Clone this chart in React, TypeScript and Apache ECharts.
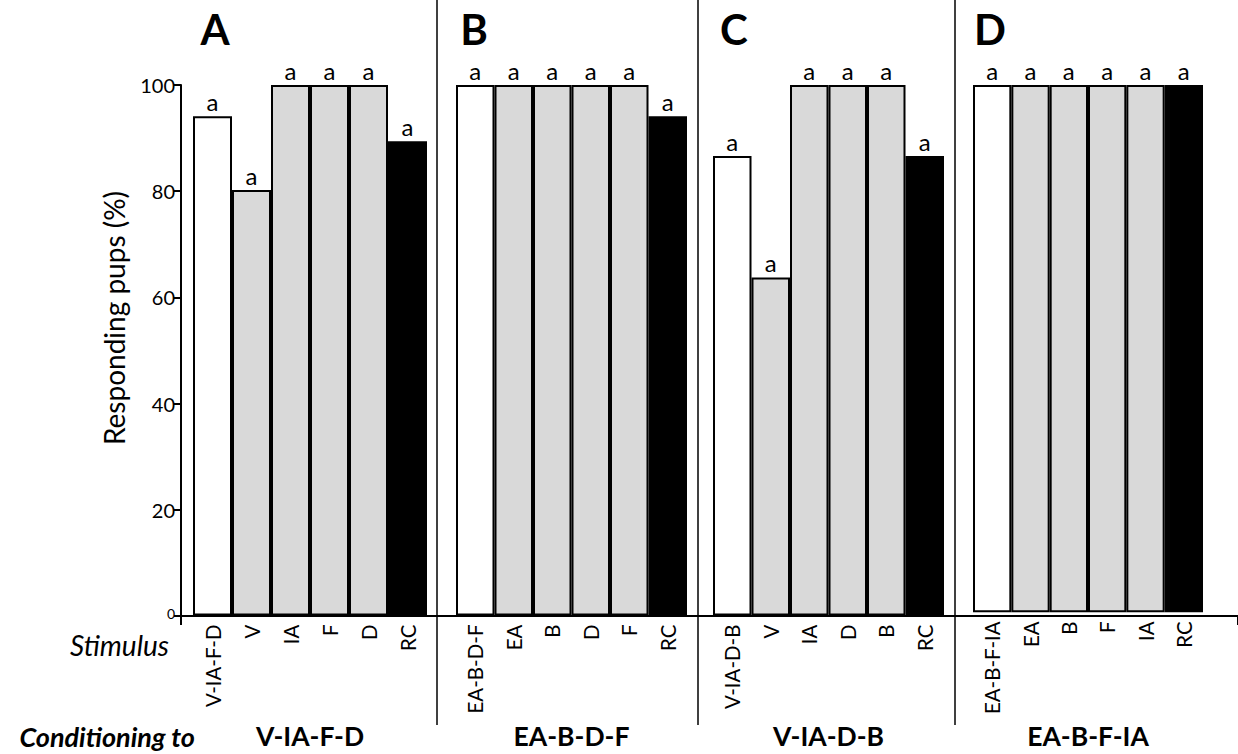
import React, { useEffect, useRef } from "react";
import * as echarts from "echarts";

const categoriesA = ["V-IA-F-D", "V", "IA", "F", "D", "RC"];
const categoriesB = ["EA-B-D-F", "EA", "B", "D", "F", "RC"];
const categoriesC = ["V-IA-D-B", "V", "IA", "D", "B", "RC"];
const categoriesD = ["EA-B-F-IA", "EA", "B", "F", "IA", "RC"];

const valuesA = [94.1, 80.2, 100, 100, 100, 89.4];
const valuesB = [100, 100, 100, 100, 100, 94.1];
const valuesC = [86.6, 63.7, 100, 100, 100, 86.6];
const valuesD = [100, 100, 100, 100, 100, 100];

const lettersA = ["a", "a", "a", "a", "a", "a"];
const lettersB = ["a", "a", "a", "a", "a", "a"];
const lettersC = ["a", "a", "a", "a", "a", "a"];
const lettersD = ["a", "a", "a", "a", "a", "a"];

// role of each bar within a panel: conditioned mixture, single odours, reference control
const barRoles = ["mix", "single", "single", "single", "single", "rc"];

const panelLetters = ["A", "B", "C", "D"];
const conditioningNames = ["V-IA-F-D", "EA-B-D-F", "V-IA-D-B", "EA-B-F-IA"];

const yMin = 0;
const yMax = 100;
const yInterval = 20;

const FONT = "Lato, 'Open Sans', sans-serif";

export default function App() {
  const ref = useRef<HTMLDivElement>(null);

  useEffect(() => {
    if (!ref.current) return;
    const chart = echarts.init(ref.current, null, { renderer: "svg" });

    const top = 85;
    const bottom = 138;
    const panels = [
      { left: 193, width: 234, cats: categoriesA, vals: valuesA, letters: lettersA },
      { left: 456, width: 231, cats: categoriesB, vals: valuesB, letters: lettersB },
      { left: 713, width: 231, cats: categoriesC, vals: valuesC, letters: lettersC },
      { left: 973, width: 230, cats: categoriesD, vals: valuesD, letters: lettersD },
    ];

    const roleColor: Record<string, string> = {
      mix: "#ffffff",
      single: "#d9d9d9",
      rc: "#000000",
    };

    const grids: any[] = [
      { left: 181, right: 0, top, bottom },
      ...panels.map((p) => ({ left: p.left, width: p.width, top, bottom })),
    ];

    const xAxes: any[] = [
      {
        gridIndex: 0,
        type: "value",
        min: 0,
        max: 1,
        interval: 1,
        axisLine: { show: true, lineStyle: { color: "#000", width: 2 } },
        axisTick: { show: true, length: 9, lineStyle: { color: "#000", width: 2 } },
        axisLabel: { show: false },
        splitLine: { show: false },
      },
      ...panels.map((p, i) => ({
        gridIndex: i + 1,
        type: "category",
        data: p.cats,
        axisLine: { show: false },
        axisTick: { show: false },
        axisLabel: {
          rotate: 90,
          fontSize: 20.5,
          color: "#000",
          margin: 9,
          fontFamily: FONT,
          interval: 0,
        },
        name: conditioningNames[i],
        nameLocation: "middle",
        nameGap: 120,
        nameTextStyle: {
          fontSize: 26.5,
          fontWeight: "bold",
          color: "#000",
          fontFamily: FONT,
          verticalAlign: "middle",
        },
      })),
    ];

    const yAxes: any[] = [
      {
        gridIndex: 0,
        type: "value",
        min: yMin,
        max: yMax,
        interval: yInterval,
        axisLine: { show: true, lineStyle: { color: "#000", width: 2 } },
        axisTick: { show: true, length: 7, lineStyle: { color: "#000", width: 2 } },
        axisLabel: {
          color: "#000",
          fontSize: 20,
          fontFamily: FONT,
          margin: 6,
          formatter: (v: number) => (v === 0 ? "{s|0}" : String(v)),
          rich: { s: { fontSize: 14, color: "#000", fontFamily: FONT, padding: [0, 0, 6, 0] } },
        },
        splitLine: { show: false },
      },
      ...panels.map((_, i) => ({
        gridIndex: i + 1,
        type: "value",
        min: yMin,
        max: yMax,
        interval: yInterval,
        show: false,
        splitLine: { show: false },
      })),
    ];

    const series: any[] = panels.map((p, i) => ({
      type: "bar",
      xAxisIndex: i + 1,
      yAxisIndex: i + 1,
      barCategoryGap: "0%",
      label: {
        show: true,
        position: "top",
        distance: 3,
        fontSize: 24,
        color: "#000",
        fontFamily: FONT,
      },
      data: p.vals.map((v, j) => ({
        value: v,
        itemStyle: {
          color: roleColor[barRoles[j]],
          borderColor: "#000",
          borderWidth: 2,
        },
        label: {
          formatter: p.letters[j],
        },
      })),
    }));

    const titleCenters = [215, 474, 734, 990];

    const option: any = {
      animation: false,
      backgroundColor: "#fff",
      grid: grids,
      xAxis: xAxes,
      yAxis: yAxes,
      series,
      graphic: [
        ...[437, 698, 955].map((x) => ({
          type: "line",
          shape: { x1: x, y1: 0, x2: x, y2: 725 },
          style: { stroke: "#000", lineWidth: 1.5 },
        })),
        ...panelLetters.map((t, i) => ({
          type: "text",
          x: titleCenters[i],
          y: 29,
          style: {
            text: t,
            fontSize: 42,
            fontWeight: "bold",
            fill: "#000",
            fontFamily: FONT,
            textAlign: "center",
            textVerticalAlign: "middle",
          },
        })),
        {
          type: "text",
          x: 114,
          y: 318,
          rotation: Math.PI / 2,
          style: {
            text: "Responding pups (%)",
            fontSize: 28,
            fill: "#000",
            fontFamily: FONT,
            textAlign: "center",
            textVerticalAlign: "middle",
          },
        },
        {
          type: "text",
          x: 169,
          y: 645,
          style: {
            text: "Stimulus",
            fontSize: 28,
            fontStyle: "italic",
            fill: "#000",
            fontFamily: FONT,
            textAlign: "right",
            textVerticalAlign: "middle",
          },
        },
        {
          type: "text",
          x: 195,
          y: 736,
          style: {
            text: "Conditioning to",
            fontSize: 27,
            fontStyle: "italic",
            fontWeight: "bold",
            fill: "#000",
            fontFamily: FONT,
            textAlign: "right",
            textVerticalAlign: "middle",
          },
        },
      ],
    };

    chart.setOption(option);
    return () => chart.dispose();
  }, []);

  return (
    <div
      ref={ref}
      style={{ position: "absolute", left: 0, top: 0, width: 1238, height: 754 }}
    />
  );
}
